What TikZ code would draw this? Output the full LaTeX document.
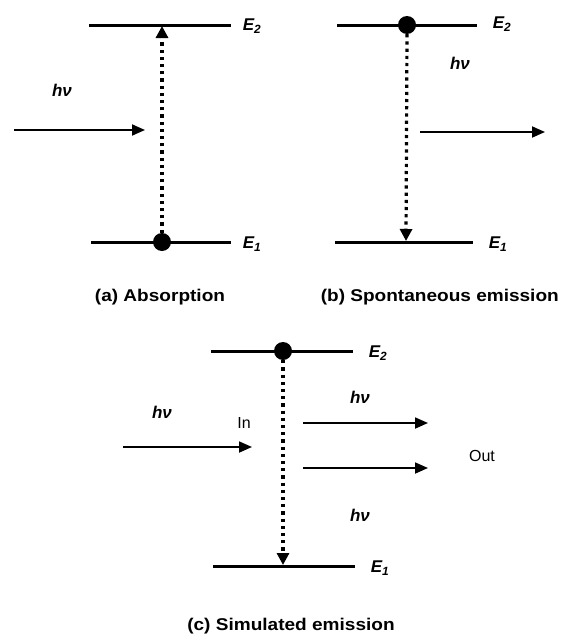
\documentclass[tikz,border=0pt]{standalone}
\usepackage{fontspec}
\setmainfont{Liberation Sans}
\newfontfamily\capfont[FakeStretch=1.12]{Liberation Sans}
\usetikzlibrary{arrows.meta}
\tikzset{
  level/.style={line width=3pt},
  photon/.style={line width=1.8pt,-{Triangle[length=13pt,width=11pt]}},
  trans/.style={line width=3.2pt,dash pattern=on 3.2pt off 4pt,-{Triangle[length=12pt,width=12pt]}},
  elec/.style={circle,fill=black,inner sep=0pt,minimum size=18pt},
  elab/.style={font=\fontsize{17}{17}\selectfont\bfseries\itshape,inner sep=0pt},
  hnu/.style={font=\fontsize{17}{17}\selectfont\bfseries\itshape,inner sep=0pt},
  captxt/.style={font=\capfont\fontsize{17}{18}\selectfont\bfseries,inner sep=0pt},
  plaintxt/.style={font=\fontsize{16}{16}\selectfont,inner sep=0pt}
}
\begin{document}
\begin{tikzpicture}[x=1pt,y=-1pt]
\useasboundingbox (0,0) rectangle (560,637);
% ---------- (a) Absorption
\coordinate (a2l) at (89,25);  \coordinate (a2r) at (231,25);
\coordinate (a1l) at (91,242); \coordinate (a1r) at (231,242);
\coordinate (a2m) at (162,26);
\draw[level] (a2l) -- (a2r);
\draw[level] (a1l) -- (a1r);
\node[elec] (ae) at (162,242) {};
\draw[trans] (ae.north) -- (a2m);
\node[elab] (aE2) at (252,26) {E\textsubscript{2}};
\node[elab] (aE1) at (252,244) {E\textsubscript{1}};
\node[hnu] (ahv) at (62,90) {hν};
\coordinate (ain1) at (14,130); \coordinate (ain2) at (145,130);
\draw[photon] (ain1) -- (ain2);
\node[captxt] (acap) at (160,297) {(a) Absorption};
% ---------- (b) Spontaneous emission
\coordinate (b2l) at (337,25);  \coordinate (b2r) at (477,25);
\coordinate (b1l) at (335,242); \coordinate (b1r) at (473,242);
\coordinate (b1m) at (406,241);
\draw[level] (b2l) -- (b2r);
\draw[level] (b1l) -- (b1r);
\node[elec] (be) at (407,25) {};
\draw[trans] (be.south) -- (b1m);
\node[elab] (bE2) at (502,24) {E\textsubscript{2}};
\node[elab] (bE1) at (498,244) {E\textsubscript{1}};
\node[hnu] (bhv) at (460,63) {hν};
\coordinate (bout1) at (420,132); \coordinate (bout2) at (545,132);
\draw[photon] (bout1) -- (bout2);
\node[captxt,anchor=east] (bcap) at (559,297) {(b) Spontaneous emission};
% ---------- (c) Stimulated emission
\coordinate (c2l) at (211,351);  \coordinate (c2r) at (353,351);
\coordinate (c1l) at (213,566); \coordinate (c1r) at (355,566);
\coordinate (c1m) at (283,565);
\draw[level] (c2l) -- (c2r);
\draw[level] (c1l) -- (c1r);
\node[elec] (ce) at (283,351) {};
\draw[trans] (ce.south) -- (c1m);
\node[elab] (cE2) at (378,353) {E\textsubscript{2}};
\node[elab] (cE1) at (380,568) {E\textsubscript{1}};
\node[hnu] (chv1) at (162,412) {hν};
\node[plaintxt] (cin) at (244,423) {In};
\coordinate (cin1) at (123,447); \coordinate (cin2) at (252,447);
\draw[photon] (cin1) -- (cin2);
\node[hnu] (chv2) at (360,397) {hν};
\coordinate (co1a) at (303,423); \coordinate (co1b) at (428,423);
\coordinate (co2a) at (303,468); \coordinate (co2b) at (428,468);
\draw[photon] (co1a) -- (co1b);
\draw[photon] (co2a) -- (co2b);
\node[hnu] (chv3) at (360,515) {hν};
\node[plaintxt] (cout) at (482,456) {Out};
\node[captxt] (ccap) at (291,626) {(c) Simulated emission};
\end{tikzpicture}
\end{document}
